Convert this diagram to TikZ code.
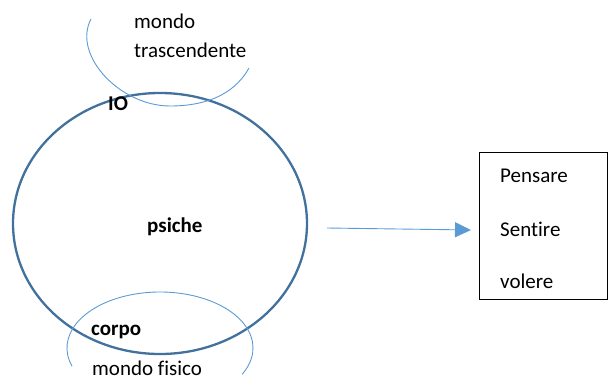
\documentclass[tikz,border=0pt]{standalone}
\usepackage{fontspec}
\setmainfont[Ligatures=NoCommon]{Carlito}
\usetikzlibrary{arrows.meta}
\definecolor{rim}{HTML}{41719C}
\definecolor{wire}{HTML}{5B9BD5}
\tikzset{
  lbl/.style={anchor=base west, inner sep=0pt},
  thin arc/.style={wire, line width=0.9pt}
}

\begin{document}
\begin{tikzpicture}[x=1pt, y=-1pt, font=\fontsize{21}{25}\selectfont]
    \useasboundingbox (0,0) rectangle (608,380);
    % psiche
    \draw[rim, line width=2.3pt] (160,223.5) ellipse [x radius=147, y radius=130.5];
    % mondo trascendente / mondo fisico
    \draw[thin arc] (91,19) .. controls (72,55) and (120,106) .. (170,106)
                            .. controls (215,106) and (238,88) .. (249,68);
    \draw[thin arc] (160,348) ++(161:93 and 56) arc[start angle=161, end angle=388, x radius=93, y radius=56];
    \node[lbl] (mondo) at (134,28) {mondo};
    \node[lbl] (trasc) at (134,57) {trascendente};
    \node[lbl, font=\fontsize{21}{25}\selectfont\bfseries] (io) at (108,110) {IO};
    \node[lbl, font=\fontsize{21}{25}\selectfont\bfseries] (psiche) at (147,232) {psiche};
    \node[lbl, font=\fontsize{21}{25}\selectfont\bfseries] (corpo) at (91,335) {corpo};
    \node[lbl] (fisico) at (92,375) {mondo fisico};
    % attivita
    \node[draw, line width=0.9pt, anchor=north west, minimum width=128, minimum height=147, inner sep=0pt] (acts) at (479,152) {};
    \node[lbl] (pensare) at (500,182) {Pensare};
    \node[lbl] (sentire) at (500,236) {Sentire};
    \node[lbl] (volere) at (500,288) {volere};
    \coordinate (tail) at (327,228);
    \coordinate (tip) at (471,230);
    \draw[wire, line width=0.9pt, -{Triangle[length=16pt, width=15pt]}] (tail) -- (tip);
\end{tikzpicture}
\end{document}
